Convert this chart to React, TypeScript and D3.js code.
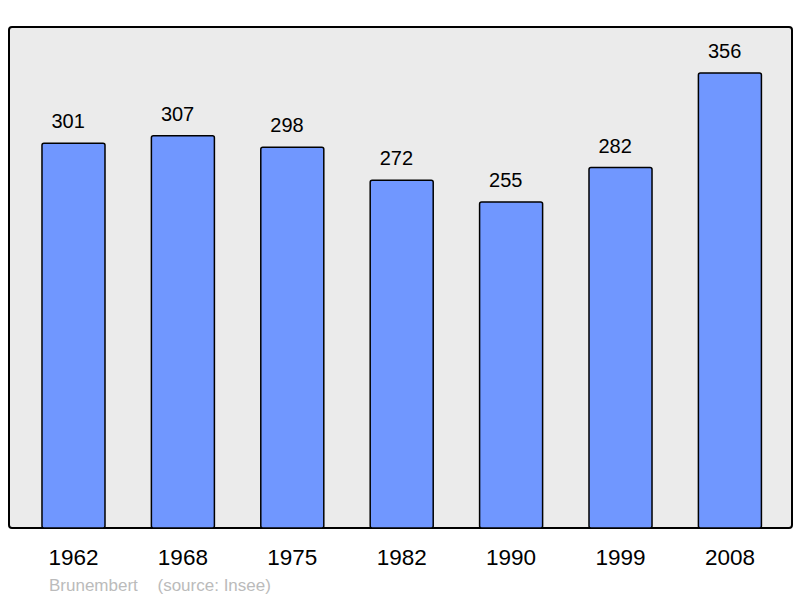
import React from "react";
import * as d3 from "d3";

const years: string[] = ["1962", "1968", "1975", "1982", "1990", "1999", "2008"];
const population: number[] = [301, 307, 298, 272, 255, 282, 356];
const commune = "Brunembert";
const source = "(source: Insee)";

const W = 800;
const H = 598;
const panel = { x: 9, y: 27, w: 783, h: 501 };

export default function App() {
  const x = d3.scaleBand<string>().domain(years).range([20.1, 783.3]).paddingInner(0.424).paddingOuter(0.2);
  const y = d3.scaleLinear().domain([0, 392]).range([528, 27]);
  const font = "'Liberation Sans', Arial, sans-serif";
  return (
    <svg width={W} height={H} style={{ position: "absolute", left: 0, top: 0 }}>
      <rect x={panel.x} y={panel.y} width={panel.w} height={panel.h} rx={3} ry={3} fill="#ebebeb" stroke="#000" strokeWidth={2} />
      {years.map((yr, i) => (
        <g key={yr}>
          <rect
            x={x(yr)!}
            y={y(population[i])}
            width={x.bandwidth()}
            height={y(0) - y(population[i])}
            rx={2}
            ry={2}
            fill="#7097ff"
            stroke="#000"
            strokeWidth={1.5}
          />
          <text x={x(yr)! + 9.5} y={y(population[i]) - 15} textAnchor="start" fontFamily={font} fontSize={20} fill="#000">
            {population[i]}
          </text>
          <text x={x(yr)! + x.bandwidth() / 2} y={565} textAnchor="middle" fontFamily={font} fontSize={22.5} fill="#000">
            {yr}
          </text>
        </g>
      ))}
      <text x={49} y={590.5} fontFamily={font} fontSize={17} fill="#bbbbbb">
        {commune}
      </text>
      <text x={157.5} y={590.5} fontFamily={font} fontSize={17} fill="#bbbbbb">
        {source}
      </text>
    </svg>
  );
}
